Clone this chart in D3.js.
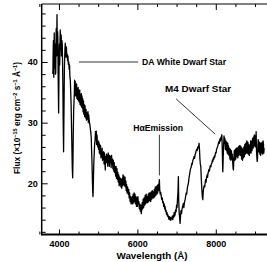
<!DOCTYPE html>
<head>
	<meta charset="utf-8">
	<script src="https://d3js.org/d3.v7.min.js"></script>
	<style>
		body { margin: 0; background: #fff; }
		text { font-family: "Liberation Sans", Arial, sans-serif; font-weight: bold; fill: #000; }
	</style>
</head>
<body>
<svg width="267" height="262"></svg>
<script>
	// spectrum: [wavelength (A), flux]
	var spectrum = [
		[3845,38.0],[3852,41.5],[3858,43.5],[3864,39.0],[3868,37.5],[3874,42.0],[3880,44.8],[3886,40.5],
		[3892,39.0],[3898,43.0],[3905,42.5],[3911,38.0],[3918,38.2],[3924,42.5],[3930,45.5],[3936,42.0],
		[3942,41.0],[3946,45.0],[3950,47.8],[3955,44.0],[3960,42.0],[3966,45.0],[3972,44.0],[3978,39.0],
		[3985,35.0],[3992,31.6],[3998,36.0],[4004,41.0],[4012,43.0],[4018,39.5],[4022,40.5],[4028,43.5],
		[4033,45.3],[4039,43.0],[4045,42.0],[4052,44.5],[4058,44.2],[4064,41.0],[4070,41.5],[4078,43.5],
		[4085,42.8],[4092,40.0],[4100,36.0],[4108,30.0],[4118,25.2],[4124,29.0],[4130,33.0],[4138,38.5],
		[4145,40.5],[4152,42.0],[4161,43.1],[4168,41.5],[4175,42.0],[4182,40.8],[4190,42.5],[4200,41.0],
		[4210,41.3],[4220,40.2],[4230,41.0],[4240,39.6],[4250,40.0],[4260,38.8],[4270,39.5],[4280,37.5],
		[4290,37.0],[4300,35.0],[4310,33.0],[4320,29.5],[4330,26.0],[4340,22.5],[4350,20.9],[4358,24.0],
		[4365,28.0],[4375,32.0],[4390,34.5],[4400,37.0],[4408,34.8],[4416,36.8],[4424,34.4],[4430,36.0],
		[4438,34.6],[4450,36.4],[4458,34.0],[4470,35.6],[4478,33.8],[4490,35.8],[4498,33.6],[4510,35.2],
		[4518,33.4],[4530,35.4],[4538,33.0],[4550,34.6],[4560,32.8],[4570,34.8],[4578,32.6],[4587,34.4],
		[4596,32.4],[4605,34.0],[4615,31.8],[4625,33.6],[4635,31.4],[4645,33.0],[4655,31.0],[4665,32.8],
		[4678,30.8],[4690,32.2],[4702,30.4],[4715,31.6],[4728,30.6],[4740,31.8],[4750,30.0],[4758,31.3],
		[4770,30.5],[4780,30.0],[4790,29.6],[4800,29.0],[4812,28.4],[4824,27.5],[4832,25.5],[4840,24.0],
		[4848,22.0],[4855,20.0],[4862,18.5],[4868,17.8],[4874,19.0],[4880,21.0],[4890,23.5],[4900,25.0],
		[4910,26.5],[4920,27.0],[4932,28.5],[4944,27.2],[4952,28.6],[4960,26.4],[4970,28.0],[4980,26.6],
		[4990,26.0],[5000,27.0],[5010,25.6],[5020,26.8],[5030,25.0],[5040,26.4],[5050,24.8],[5060,26.2],
		[5070,24.2],[5080,25.4],[5090,24.4],[5100,25.8],[5110,23.8],[5120,25.0],[5130,24.0],[5140,25.2],
		[5150,23.2],[5160,25.0],[5170,23.6],[5182,22.2],[5190,24.4],[5200,23.4],[5212,24.8],[5225,23.4],
		[5235,24.6],[5245,22.8],[5255,25.0],[5265,23.6],[5275,24.6],[5285,22.8],[5295,24.6],[5305,23.4],
		[5318,24.4],[5330,22.6],[5342,24.6],[5353,23.2],[5365,24.0],[5375,22.4],[5386,23.8],[5398,22.0],
		[5410,23.4],[5420,21.8],[5432,22.8],[5444,21.2],[5456,22.8],[5468,20.8],[5480,22.4],[5492,20.6],
		[5503,21.8],[5514,20.2],[5525,21.4],[5535,19.6],[5546,21.0],[5556,19.8],[5568,20.8],[5580,19.4],
		[5590,20.6],[5601,19.2],[5612,20.8],[5622,19.6],[5634,21.4],[5645,19.8],[5656,21.2],[5668,19.6],
		[5685,21.0],[5695,19.4],[5705,20.4],[5715,18.8],[5725,19.8],[5738,18.4],[5750,19.4],[5769,18.2],
		[5780,19.0],[5790,17.6],[5802,18.4],[5815,17.0],[5828,17.8],[5840,16.6],[5856,16.8],[5868,17.8],
		[5880,16.6],[5892,18.2],[5905,16.8],[5918,18.4],[5930,17.0],[5940,18.2],[5952,16.6],[5965,17.8],
		[5978,16.2],[5990,17.6],[6002,16.2],[6014,17.8],[6025,16.6],[6038,17.0],[6050,15.8],[6062,16.6],
		[6075,15.4],[6088,16.4],[6100,15.0],[6111,15.6],[6122,16.8],[6135,15.8],[6148,17.4],[6160,16.0],
		[6172,17.6],[6185,16.4],[6198,18.0],[6210,16.6],[6225,18.2],[6239,16.8],[6252,17.8],[6265,16.8],
		[6278,18.2],[6290,17.0],[6302,18.4],[6315,17.2],[6328,18.4],[6340,17.0],[6355,18.6],[6368,17.4],
		[6380,18.8],[6395,17.6],[6407,18.6],[6420,17.6],[6432,19.0],[6445,17.8],[6458,19.4],[6470,18.0],
		[6482,19.4],[6494,18.2],[6505,19.6],[6518,18.4],[6530,19.8],[6542,18.8],[6552,19.8],[6561,20.6],
		[6570,19.0],[6582,18.2],[6595,18.5],[6610,17.8],[6622,17.3],[6635,17.6],[6648,16.8],[6660,17.0],
		[6672,16.2],[6685,16.6],[6695,15.8],[6706,16.2],[6718,15.4],[6730,15.6],[6742,14.9],[6755,15.2],
		[6768,14.6],[6779,14.8],[6790,14.5],[6802,14.1],[6815,14.5],[6828,14.0],[6840,14.4],[6852,13.9],
		[6865,14.3],[6877,14.2],[6890,14.6],[6902,14.0],[6915,14.7],[6928,14.4],[6940,15.2],[6950,14.6],
		[6961,14.8],[6975,15.6],[6988,15.3],[7000,16.4],[7012,16.0],[7024,17.5],[7035,18.5],[7046,21.1],
		[7055,17.0],[7068,15.0],[7080,14.2],[7089,13.4],[7100,14.5],[7112,15.5],[7125,15.0],[7140,15.8],
		[7155,16.2],[7173,16.7],[7185,16.0],[7200,16.8],[7217,17.3],[7230,17.8],[7245,18.4],[7258,18.2],
		[7270,19.0],[7285,19.6],[7301,20.0],[7315,20.8],[7328,21.3],[7340,21.8],[7355,22.4],[7370,22.6],
		[7388,23.3],[7400,23.1],[7415,23.8],[7430,24.0],[7445,24.4],[7458,24.1],[7472,24.7],[7485,25.0],
		[7498,25.3],[7510,25.6],[7525,25.4],[7540,26.0],[7555,25.8],[7574,26.6],[7585,25.5],[7595,24.0],
		[7605,23.2],[7618,22.8],[7628,21.0],[7640,19.5],[7652,18.2],[7660,17.6],[7669,17.3],[7678,18.5],
		[7690,19.2],[7705,19.6],[7718,19.4],[7728,20.0],[7740,20.6],[7752,20.2],[7765,21.0],[7778,21.4],
		[7790,21.0],[7800,21.6],[7812,21.9],[7825,22.3],[7838,22.0],[7850,22.6],[7862,22.9],[7875,22.7],
		[7887,23.2],[7899,23.3],[7912,23.8],[7925,23.6],[7938,24.2],[7950,24.0],[7962,24.5],[7975,24.3],
		[7983,24.7],[7995,25.1],[8008,25.0],[8020,25.6],[8032,25.8],[8045,26.0],[8056,26.3],[8067,26.6],
		[8080,26.9],[8092,26.6],[8105,27.3],[8118,27.0],[8130,27.6],[8142,27.3],[8154,28.0],[8162,26.5],
		[8172,23.5],[8179,21.9],[8188,24.0],[8200,26.4],[8210,27.8],[8220,26.6],[8232,27.4],[8244,25.6],
		[8256,27.0],[8268,25.4],[8280,26.8],[8292,25.0],[8305,26.6],[8315,24.8],[8322,26.2],[8335,24.6],
		[8348,25.8],[8360,24.0],[8372,25.6],[8385,23.8],[8398,25.4],[8409,24.0],[8420,24.8],[8432,23.4],
		[8442,22.4],[8450,22.2],[8460,24.0],[8472,25.4],[8485,23.8],[8498,25.6],[8510,24.0],[8524,25.8],
		[8537,24.4],[8550,25.8],[8562,24.2],[8575,26.0],[8588,24.6],[8600,26.2],[8610,24.8],[8621,26.2],
		[8632,24.6],[8645,26.0],[8658,24.0],[8670,25.8],[8682,23.8],[8694,25.6],[8705,24.2],[8716,26.0],
		[8728,24.4],[8740,26.4],[8752,24.8],[8765,26.6],[8778,25.0],[8792,27.0],[8805,25.0],[8818,26.8],
		[8830,24.8],[8842,26.4],[8855,24.6],[8865,26.2],[8876,25.0],[8888,27.0],[8900,25.0],[8912,27.0],
		[8925,25.4],[8938,27.4],[8950,25.8],[8960,27.6],[8970,26.0],[8982,28.0],[8995,26.2],[9008,27.8],
		[9018,26.0],[9029,28.5],[9038,25.4],[9048,24.2],[9055,23.6],[9063,24.0],[9072,26.0],[9082,27.2],
		[9094,25.2],[9104,26.8],[9114,26.8],[9124,24.8],[9135,26.6],[9145,24.6],[9156,26.6],[9165,25.0],
		[9175,26.0],[9185,26.8],[9196,24.8],[9206,27.0],[9216,26.4],[9225,25.0],[9233,25.8]
	];

	var xLabelTicks = [4000, 6000, 8000];
	var xMinorTicks = [3500, 4500, 5000, 5500, 6500, 7000, 7500, 8500, 9000, 9500];
	var yLabelTicks = [20, 30, 40];
	var yMinorTicks = [12, 14, 16, 18, 22, 24, 26, 28, 32, 34, 36, 38, 42, 44, 46, 48];

	// annotations in data units: label anchor + leader line
	var annotations = [
		{text: 'DA White Dwarf Star', x: 6120, y: 39.5, anchor: 'start', width: 84, line: [[4510, 40], [6020, 40]]},
		{text: 'M4 Dwarf Star', x: 7549, y: 35.0, anchor: 'middle', width: 66, line: [[6990, 33.9], [7985, 28.1]]},
		{text: 'H\u03b1Emission', x: 6530, y: 28.6, anchor: 'middle', width: 50, line: [[6561, 28.0], [6561, 21.3]]}
	];

	var pLeft = 41.7, pRight = 275, pTop = 4, pBottom = 234.5;
	var svg = d3.select('svg');
	var noLabel = function () { return ''; };

	var x = d3.scaleLinear().domain([3560, 9510]).range([pLeft, pRight]);
	var y = d3.scaleLinear().domain([11.56, 49.56]).range([pBottom, pTop]);

	/* --------- axes --------- */
	function xAxis(g, orient, ticks, size, labels) {
		var ax = (orient === 'bottom' ? d3.axisBottom(x) : d3.axisTop(x))
			.tickValues(ticks).tickSizeInner(-size).tickSizeOuter(0).tickPadding(size + 3)
			.tickFormat(labels ? d3.format('d') : noLabel);
		g.call(ax);
	}

	svg.append('g').attr('transform', 'translate(0,' + pBottom + ')')
		.call(function (g) { xAxis(g, 'bottom', xMinorTicks, 3, false); });
	svg.append('g').attr('transform', 'translate(0,' + pBottom + ')').attr('class', 'xlab')
		.call(function (g) { xAxis(g, 'bottom', xLabelTicks, 5, true); });
	svg.append('g').attr('transform', 'translate(0,' + pTop + ')')
		.call(function (g) { xAxis(g, 'top', xMinorTicks, 3, false); });
	svg.append('g').attr('transform', 'translate(0,' + pTop + ')')
		.call(function (g) { xAxis(g, 'top', xLabelTicks, 6, false); });

	svg.append('g').attr('transform', 'translate(' + pLeft + ',0)')
		.call(d3.axisLeft(y).tickValues(yMinorTicks).tickSizeInner(-4).tickSizeOuter(0).tickFormat(noLabel));
	svg.append('g').attr('transform', 'translate(' + pLeft + ',0)').attr('class', 'ylab')
		.call(d3.axisLeft(y).tickValues(yLabelTicks).tickSizeInner(-6).tickSizeOuter(0).tickPadding(4)
			.tickFormat(d3.format('d')));

	svg.selectAll('.domain').remove();
	svg.selectAll('.tick line').attr('stroke', '#000').attr('stroke-width', 1);
	svg.selectAll('.xlab text').attr('font-size', 9).attr('y', 6)
		.attr('font-family', '"Liberation Sans", Arial, sans-serif').attr('font-weight', 'bold');
	svg.selectAll('.ylab text').attr('font-size', 9)
		.attr('font-family', '"Liberation Sans", Arial, sans-serif').attr('font-weight', 'bold');

	// frame lines
	svg.append('line').attr('x1', pLeft).attr('x2', pRight).attr('y1', pBottom).attr('y2', pBottom)
		.attr('stroke', '#000').attr('stroke-width', 2.2);
	svg.append('line').attr('x1', pLeft).attr('x2', pRight).attr('y1', pTop).attr('y2', pTop)
		.attr('stroke', '#000').attr('stroke-width', 1);
	svg.append('line').attr('x1', pLeft).attr('x2', pLeft).attr('y1', pTop).attr('y2', pBottom + 1)
		.attr('stroke', '#000').attr('stroke-width', 1.5);

	/* --------- spectrum --------- */
	var line = d3.line().x(function (d) { return x(d[0]); }).y(function (d) { return y(d[1]); });
	svg.append('path').datum(spectrum).attr('d', line)
		.attr('fill', 'none').attr('stroke', '#000').attr('stroke-width', 1.3).attr('stroke-linejoin', 'round');

	/* --------- annotations --------- */
	annotations.forEach(function (a) {
		svg.append('line')
			.attr('x1', x(a.line[0][0])).attr('y1', y(a.line[0][1]))
			.attr('x2', x(a.line[1][0])).attr('y2', y(a.line[1][1]))
			.attr('stroke', '#000').attr('stroke-width', 0.8);
		svg.append('text').attr('x', x(a.x)).attr('y', y(a.y))
			.attr('text-anchor', a.anchor).attr('font-size', 8.5)
			.attr('textLength', a.width).attr('lengthAdjust', 'spacingAndGlyphs')
			.text(a.text);
	});

	/* --------- axis titles --------- */
	svg.append('text').attr('x', 152).attr('y', 259).attr('text-anchor', 'middle')
		.attr('font-size', 8.5).attr('textLength', 71).attr('lengthAdjust', 'spacingAndGlyphs')
		.text('Wavelength (\u00c5)');

	var yt = svg.append('text').attr('transform', 'translate(20,118) rotate(-90)')
		.attr('text-anchor', 'middle').attr('font-size', 8.3);
	yt.append('tspan').text('Flux (\u00d710');
	yt.append('tspan').attr('font-size', 5.5).attr('dy', -3).text('\u221215');
	yt.append('tspan').attr('dy', 3).text(' erg cm');
	yt.append('tspan').attr('font-size', 5.5).attr('dy', -3).text('\u22122');
	yt.append('tspan').attr('dy', 3).text(' s');
	yt.append('tspan').attr('font-size', 5.5).attr('dy', -3).text('\u22121');
	yt.append('tspan').attr('dy', 3).text(' \u00c5');
	yt.append('tspan').attr('font-size', 5.5).attr('dy', -3).text('\u22121');
	yt.append('tspan').attr('dy', 3).text(')');
</script>
</body>
